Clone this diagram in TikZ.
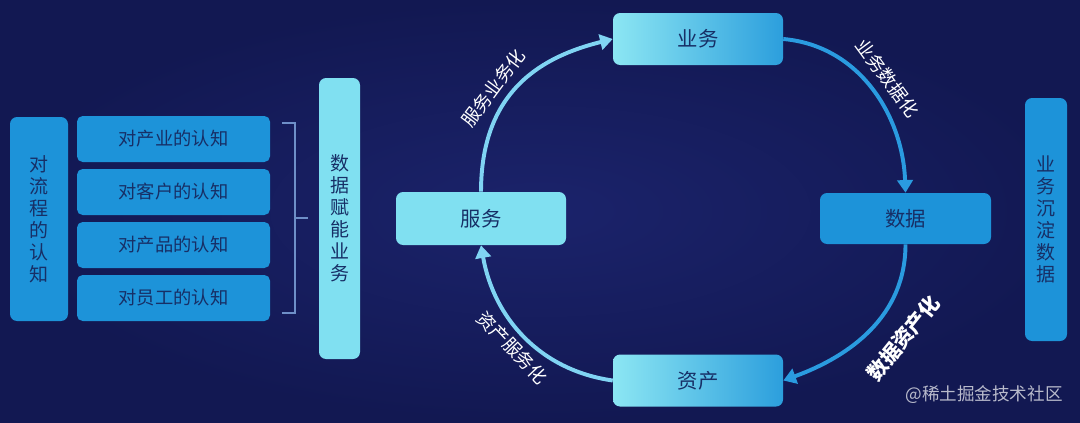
\documentclass[tikz,border=0pt]{standalone}
\usepackage{fontspec}
\setmainfont{Noto Sans CJK SC}
\usetikzlibrary{arrows.meta}

\definecolor{bgmid}{HTML}{1B236B}
\definecolor{bgdark}{HTML}{121852}
\definecolor{boxcyan}{HTML}{80E0F1}
\definecolor{boxcyanlt}{HTML}{8CE6F3}
\definecolor{boxblue}{HTML}{1D93D9}
\definecolor{txtnavy}{HTML}{172F66}
\definecolor{arclight}{HTML}{80D4F3}
\definecolor{arcblue}{HTML}{2A9BE0}
\definecolor{bracketgrey}{HTML}{6E8FC8}

\begin{document}
\begin{tikzpicture}[
    cardbox/.style={rounded corners=4pt, fill=boxblue, text=txtnavy, minimum width=4.825cm, minimum height=1.15cm, font=\fontsize{13}{15}\selectfont},
    tallbox/.style={rounded corners=5pt, text=txtnavy, align=center, inner sep=0pt, font=\fontsize{13.5}{15.6}\selectfont},
    stagebox/.style={rounded corners=5pt, text=txtnavy, minimum width=4.25cm, minimum height=1.3cm, font=\fontsize{14.5}{17}\selectfont},
    flowarrow/.style={line width=2.8pt, -{Triangle[width=11pt,length=9pt]}},
    arclabel/.style={text=white, sloped, font=\fontsize{13}{15}\selectfont}
]
    % Background
    \fill[inner color=bgmid, outer color=bgdark] (0,0) rectangle (27,10.55);
    \useasboundingbox (0,0) rectangle (27,10.55);

    % Left: cognition blocks
    \node[tallbox, fill=boxblue, minimum width=1.45cm, minimum height=5.1cm] (flow) at (0.975,5.075) {对\\流\\程\\的\\认\\知};
    \node[cardbox] (industry) at (4.3375,7.075) {对产业的认知};
    \node[cardbox] (customer) at (4.3375,5.75) {对客户的认知};
    \node[cardbox] (product) at (4.3375,4.425) {对产品的认知};
    \node[cardbox] (staff) at (4.3375,3.1) {对员工的认知};

    % Bracket
    \coordinate (brtop) at (7.05,7.475);
    \coordinate (brbot) at (7.05,2.725);
    \coordinate (brtip) at (7.7,5.1);
    \draw[bracketgrey, line width=1pt] (brtop) -- ++(0.325,0) |- (brbot);
    \draw[bracketgrey, line width=1pt] (7.375,5.1) -- (brtip);

    \node[tallbox, fill=boxcyan, minimum width=1.025cm, minimum height=7.025cm] (empower) at (8.4875,5.0875) {数\\据\\赋\\能\\业\\务};

    % Cycle
    \node[stagebox, fill=boxcyan, minimum height=1.325cm] (service) at (12.025,5.0875) {服务};
    \node[stagebox, left color=boxcyanlt, right color=boxblue!85!boxcyan] (business) at (17.45,9.575) {业务};
    \node[stagebox, left color=boxcyanlt, right color=boxblue!85!boxcyan] (asset) at (17.45,1.0375) {资产};
    \node[stagebox, fill=boxblue, minimum width=4.275cm, minimum height=1.275cm] (data) at (22.6375,5.0875) {数据};

    \draw[flowarrow, arclight] (service.north) to[out=90, in=194, out looseness=1.3, in looseness=0.9] node[arclabel, pos=0.4, above=2pt] {服务业务化} (business.west);
    \draw[flowarrow, arcblue] (business.east) to[out=-5, in=92] node[arclabel, pos=0.5, above=3pt] {业务数据化} (data.north);
    \draw[flowarrow, arcblue] (data.south) to[out=-90, in=20] node[arclabel, pos=0.42, below=10pt, font=\fontsize{14.5}{16}\selectfont\bfseries] {数据资产化} (asset.east);
    \draw[flowarrow, arclight] (asset.west) to[out=172, in=-80] node[arclabel, pos=0.5, below=1pt] {资产服务化} (service.south);

    % Right
    \node[tallbox, fill=boxblue, minimum width=1.05cm, minimum height=6.075cm] (settle) at (26.15,5.0625) {业\\务\\沉\\淀\\数\\据};

    \node[text=white, opacity=0.7, font=\fontsize{12.5}{14}\selectfont] (mark) at (24.6,0.675) {@稀土掘金技术社区};
\end{tikzpicture}
\end{document}
